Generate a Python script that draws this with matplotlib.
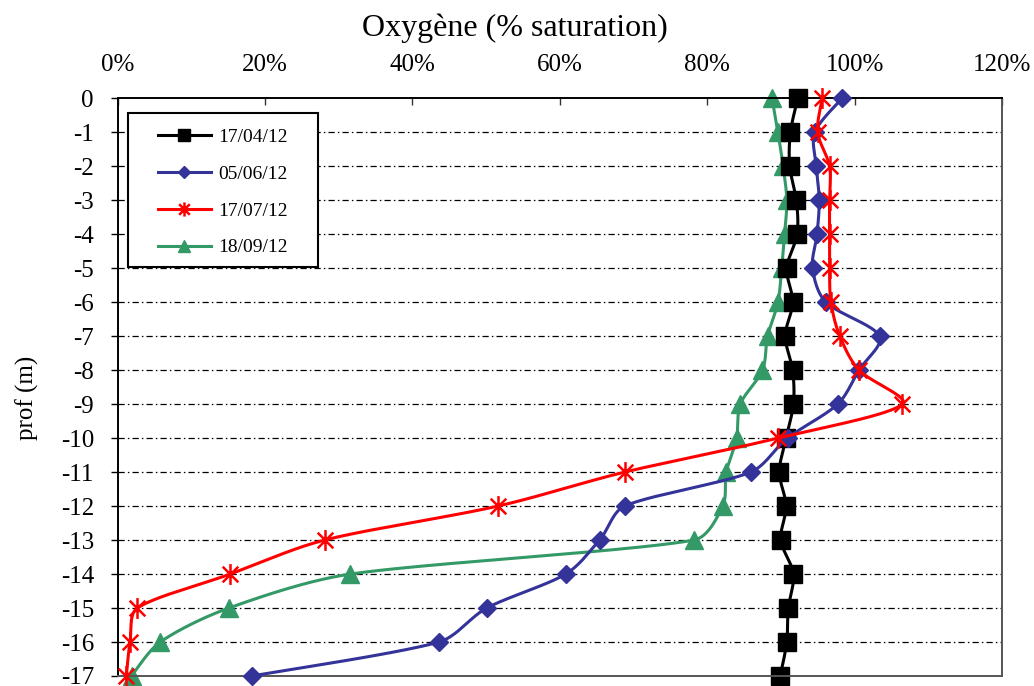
import numpy as np
import matplotlib
matplotlib.use("Agg")
import matplotlib.pyplot as plt
from matplotlib.lines import Line2D
from matplotlib.patches import Rectangle
from matplotlib.path import Path

plt.rcParams['font.family'] = ['Liberation Serif', 'DejaVu Serif']

# Depth of each measurement (m)
depth = [0, -1, -2, -3, -4, -5, -6, -7, -8, -9, -10, -11, -12, -13, -14, -15, -16, -17]

# Oxygen saturation (%) per campaign
o2_170412 = [92.3, 91.3, 91.2, 92.1, 92.2, 90.8, 91.6, 90.6, 91.6, 91.7,
             90.7, 89.8, 90.7, 90.0, 91.7, 91.0, 90.8, 89.9]
o2_050612 = [98.3, 94.6, 94.8, 95.2, 94.9, 94.3, 96.1, 103.4, 100.6, 97.7,
             90.9, 85.9, 68.8, 65.4, 60.8, 50.1, 43.6, 18.2]
o2_170712 = [95.6, 95.0, 96.6, 96.6, 96.6, 96.6, 96.8, 98.0, 100.6, 106.5,
             89.6, 68.8, 51.6, 28.1, 15.3, 2.7, 1.7, 1.2]
o2_180912 = [88.8, 89.6, 90.3, 90.8, 90.5, 90.1, 89.6, 88.2, 87.5, 84.5,
             84.0, 82.6, 82.1, 78.2, 31.6, 15.1, 5.8, 1.9]

labels = ['17/04/12', '05/06/12', '17/07/12', '18/09/12']
x_ticks = [0, 20, 40, 60, 80, 100, 120]
y_ticks = list(range(0, -18, -1))

W, H = 1034, 686
fig = plt.figure(figsize=(W / 100, H / 100), dpi=100)
ax = fig.add_axes([117.5 / W, 1 - 676 / H, (1002 - 117.5) / W, (676 - 98.3) / H])
ax.set_xlim(0, 120)
ax.set_ylim(-17, 0)

# Star marker: a vertical bar crossed by an X
star = Path([(0, -1), (0, 1), (-0.75, -0.75), (0.75, 0.75), (-0.75, 0.75), (0.75, -0.75)],
            [Path.MOVETO, Path.LINETO, Path.MOVETO, Path.LINETO, Path.MOVETO, Path.LINETO])


def smooth(ax, xs, ys, n=40):
    """Bezier smoothing through the points, computed in screen space,
    with control arms shortened on short segments to avoid overshoot."""
    pts = ax.transData.transform(np.column_stack([xs, ys]))
    out = [pts[0]]
    m = len(pts)
    for i in range(m - 1):
        p0 = pts[i - 1] if i > 0 else pts[i]
        p1 = pts[i]
        p2 = pts[i + 1]
        p3 = pts[i + 2] if i + 2 < m else pts[i + 1]
        d01 = np.hypot(*(p1 - p0))
        d12 = np.hypot(*(p2 - p1))
        d23 = np.hypot(*(p3 - p2))
        s1 = min(1.0, 2 * d12 / (d01 + d12)) if d01 > 0 else 1.0
        s2 = min(1.0, 2 * d12 / (d12 + d23)) if d23 > 0 else 1.0
        c1 = p1 + (p2 - p0) / 6.0 * s1
        c2 = p2 - (p3 - p1) / 6.0 * s2
        t = np.linspace(0, 1, n)[1:, None]
        seg = ((1 - t) ** 3) * p1 + 3 * ((1 - t) ** 2) * t * c1 \
            + 3 * (1 - t) * t ** 2 * c2 + t ** 3 * p2
        out.extend(seg)
    out = np.array(out)
    back = ax.transData.inverted().transform(out)
    return back[:, 0], back[:, 1]


series = [
    (o2_170412, '#000000', 's', 12.5, 2, dict()),
    (o2_050612, '#333399', 'D', 9.5, 3, dict()),
    (o2_170712, '#FF0000', star, 15, 4, dict(markeredgewidth=1.8)),
    (o2_180912, '#339966', '^', 13.5, 1, dict()),
]

handles = []
for (vals, col, mk, ms, z, extra), lab in zip(series, labels):
    sx, sy = smooth(ax, vals, depth)
    ax.plot(sx, sy, color=col, lw=2.2, zorder=z, clip_on=False,
            solid_capstyle='round')
    ax.plot(vals, depth, linestyle='none', marker=mk, markersize=ms,
            color=col, markeredgecolor=col, zorder=z + 0.5, clip_on=False, **extra)
    handles.append(Line2D([], [], color=col, lw=2.2, marker=mk, markersize=ms * 0.68,
                          markeredgecolor=col, **extra))

# Horizontal dash-dot gridlines
for yv in y_ticks[1:-1]:
    ax.axhline(yv, color='#000000', lw=0.9, linestyle=(0, (5, 2.5, 1.2, 2.5)), zorder=0.5)

ax.xaxis.tick_top()
ax.set_xticks(x_ticks)
ax.set_xticklabels([f'{v}%' for v in x_ticks])
ax.set_yticks(y_ticks)
ax.set_yticklabels([str(v) for v in y_ticks])
ax.tick_params(axis='x', direction='in', length=5, width=1, pad=16, labelsize=18,
               colors='#333333', labelcolor='black')
ax.tick_params(axis='y', direction='out', length=5, width=1, pad=12, labelsize=18,
               labelcolor='black')

for side in ['top', 'left']:
    ax.spines[side].set_color('#000000')
    ax.spines[side].set_linewidth(1.4)
for side in ['right', 'bottom']:
    ax.spines[side].set_color('#555555')
    ax.spines[side].set_linewidth(1.4)

fig.text(515 / W, 1 - 36 / H, 'Oxygène (% saturation)', ha='center', va='baseline', fontsize=23)
fig.text(27 / W, 1 - 398 / H, 'prof (m)', ha='center', va='center', rotation=90, fontsize=18)

# Legend box drawn separately so its padding can be set freely
box = Rectangle((128 / W, 1 - 267 / H), (318 - 128) / W, (267 - 113) / H,
                transform=fig.transFigure, facecolor='white', edgecolor='black',
                lw=1.5, zorder=9, clip_on=False)
ax.add_patch(box)
leg = ax.legend(handles, labels, loc='upper left', bbox_to_anchor=(0.0283, 0.975),
                fontsize=14, frameon=False, handlelength=2.7,
                labelspacing=0.99, borderpad=0.8, handletextpad=0.4, borderaxespad=0)
leg.set_zorder(10)

fig.savefig('out.png', dpi=100)
